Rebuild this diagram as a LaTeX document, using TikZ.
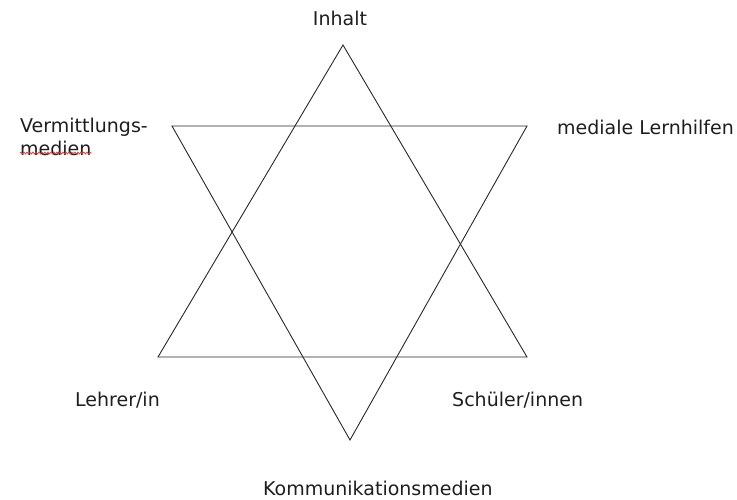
\documentclass[tikz,border=0pt]{standalone}
\usepackage{fontspec}
\setmainfont{DejaVu Sans}
\usetikzlibrary{decorations.pathmorphing}
\definecolor{starline}{RGB}{40,40,40}
\definecolor{labeltext}{RGB}{30,30,30}
\definecolor{spellred}{RGB}{220,60,50}
\tikzset{
  starside/.style={draw=starline,line width=0.9pt,line join=miter},
  corner/.style={
    font=\fontsize{19}{23}\selectfont,
    text=labeltext,
    inner sep=0pt,
    anchor=west,
    align=left
  },
  spellmark/.style={draw=spellred,line width=0.7pt,
    decorate,decoration={snake,amplitude=1pt,segment length=3pt}}
}
\begin{document}
\begin{tikzpicture}[x=1pt,y=-1pt]
\useasboundingbox (0,0) rectangle (737,499);
% upward triangle
\coordinate (upapex) at (343,45);
\coordinate (upleft) at (158,357);
\coordinate (upright) at (527,357);
% downward triangle
\coordinate (downleft) at (172,126);
\coordinate (downright) at (527,126);
\coordinate (downapex) at (350,440);
\draw[starside] (upapex)--(upleft)--(upright)--cycle;
\draw[starside] (downleft)--(downright)--(downapex)--cycle;
% labels
\node[corner,anchor=center] (inhalt) at (340,18) {Inhalt};
\node[corner] (vermittlung) at (20,127) {Vermittlungs-};
\node[corner] (medien) at (20,148) {medien};
\node[corner] (lernhilfen) at (557,127) {mediale Lernhilfen};
\node[corner] (lehrer) at (75,400) {Lehrer/in};
\node[corner] (schueler) at (452,400) {Schüler/innen};
\node[corner] (kommunikation) at (263,488) {Kommunikationsmedien};
\draw[spellmark] ([yshift=2.5pt]medien.south west)--([yshift=2.5pt]medien.south east);
\end{tikzpicture}
\end{document}
